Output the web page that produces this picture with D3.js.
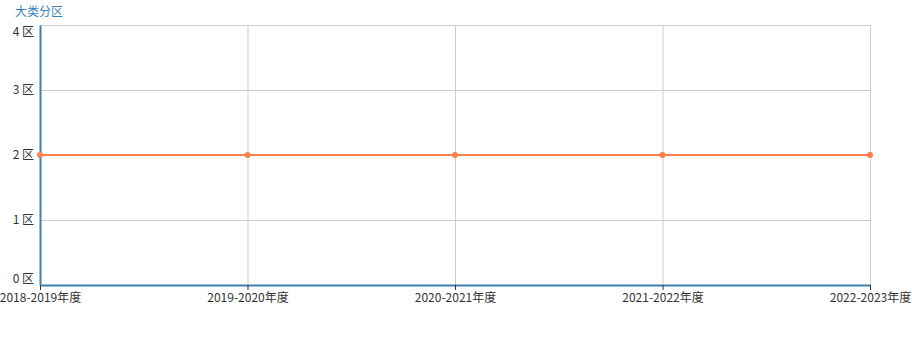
<!DOCTYPE html>
<html>
<head>
<meta charset="utf-8">
<script src="https://cdn.jsdelivr.net/npm/d3@7"></script>
<style>
  body { margin: 0; background: #fff; }
  text { font-family: "Microsoft YaHei", "Noto Sans CJK SC", sans-serif; }
</style>
</head>
<body>
<div id="chart"></div>
<script>
const years = ['2018-2019年度', '2019-2020年度', '2020-2021年度', '2021-2022年度', '2022-2023年度']
const values = [2, 2, 2, 2, 2]
const yTicks = [0, 1, 2, 3, 4]
const yName = '大类分区'

const svgWidth = 912, svgHeight = 344
const margin = {top: 25, right: 42, bottom: 59, left: 40}
const width = svgWidth - margin.left - margin.right
const height = svgHeight - margin.top - margin.bottom

let svg = d3.select('#chart')
    .append('svg')
    .attr('width', svgWidth)
    .attr('height', svgHeight)

let g = svg.append('g')
    .attr('transform', `translate(${margin.left},${margin.top})`)

let xScale = d3.scalePoint()
    .domain(years)
    .range([0, width])

let yScale = d3.scaleLinear()
    .domain([0, 4])
    .range([height, 0])

// grid lines
g.selectAll('.hgrid')
    .data(yTicks)
    .join('line')
    .attr('x1', 0)
    .attr('x2', width)
    .attr('y1', d => yScale(d) + 0.5)
    .attr('y2', d => yScale(d) + 0.5)
    .attr('stroke', '#ccc')

g.selectAll('.vgrid')
    .data(years)
    .join('line')
    .attr('x1', d => xScale(d) + 0.5)
    .attr('x2', d => xScale(d) + 0.5)
    .attr('y1', 0)
    .attr('y2', height)
    .attr('stroke', '#ccc')

// x axis
let xAxis = g.append('g')
    .attr('transform', `translate(0,${height})`)
    .call(d3.axisBottom(xScale).tickSize(5).tickSizeOuter(0))
xAxis.select('.domain').attr('stroke', '#3e80b6').attr('stroke-width', 2)
xAxis.selectAll('.tick line').attr('stroke', '#333')
xAxis.selectAll('.tick text')
    .attr('fill', '#333')
    .attr('font-size', 12)
    .attr('y', 8)

// y axis
let yAxis = g.append('g')
    .call(d3.axisLeft(yScale).tickValues(yTicks).tickSize(0).tickFormat(d => d + ' 区'))
yAxis.select('.domain').attr('stroke', '#3e80b6').attr('stroke-width', 2)
yAxis.selectAll('.tick text')
    .attr('fill', '#333')
    .attr('font-size', 12)
    .attr('x', -6)
    .attr('dy', d => d == 4 ? '0.85em' : d == 0 ? '-0.2em' : '0.32em')

// axis name
g.append('text')
    .attr('x', -25)
    .attr('y', -9)
    .attr('fill', '#3e80b6')
    .attr('font-size', 12)
    .text(yName)

// line
g.append('path')
    .datum(values)
    .attr('fill', 'none')
    .attr('stroke', '#ff7f50')
    .attr('stroke-width', 2)
    .attr('d', d3.line()
        .x((d, i) => xScale(years[i]))
        .y(d => yScale(d)))

g.selectAll('.pt')
    .data(values)
    .join('circle')
    .attr('cx', (d, i) => xScale(years[i]))
    .attr('cy', d => yScale(d))
    .attr('r', 3)
    .attr('fill', '#ff7f50')
</script>
</body>
</html>
